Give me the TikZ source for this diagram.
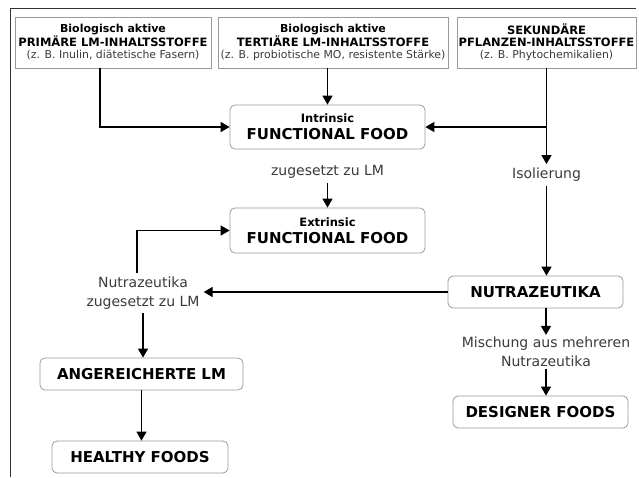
\documentclass[tikz,border=0pt]{standalone}
\usepackage{fontspec}
\setmainfont{DejaVu Sans}
\usetikzlibrary{arrows.meta}
\definecolor{txt}{HTML}{3A3A3A}
\definecolor{bord}{HTML}{9A9A9A}
\begin{document}
\begin{tikzpicture}[x=1pt,y=-1pt,
  topbox/.style={draw=bord, line width=0.8pt, align=center, minimum height=51pt, inner sep=0pt},
  rbox/.style={draw=bord, line width=0.8pt, rounded corners=5pt, align=center, inner sep=0pt, font=\fontsize{15}{17}\bfseries\selectfont},
  lbl/.style={text=txt, align=center, inner sep=4pt, font=\fontsize{14}{19}\selectfont},
  arr/.style={line width=1.5pt, -{Triangle[length=9pt,width=10pt]}},
  ln/.style={line width=1.5pt}]
\useasboundingbox (0,0) rectangle (639,477);
\draw[line width=1pt, black!80] (636,8) -- (10,8) -- (10,477);

% top boxes
\node[topbox, minimum width=196pt] (box1) at (113,42.5)
  {{\fontsize{11}{15}\bfseries\selectfont Biologisch aktive}\\
   {\fontsize{11.5}{15}\bfseries\selectfont PRIMÄRE LM-INHALTSSTOFFE}\\
   {\color{txt}\fontsize{10.9}{15}\selectfont (z. B. Inulin, diätetische Fasern)}};
\node[topbox, minimum width=230pt] (box2) at (333,42.5)
  {{\fontsize{11}{15}\bfseries\selectfont Biologisch aktive}\\
   {\fontsize{11.5}{15}\bfseries\selectfont TERTIÄRE LM-INHALTSSTOFFE}\\
   {\color{txt}\fontsize{10.9}{15}\selectfont (z. B. probiotische MO, resistente Stärke)}};
\node[topbox, minimum width=179pt] (box3) at (546.5,42.5)
  {{\fontsize{11.5}{15}\bfseries\selectfont SEKUNDÄRE}\\
   {\fontsize{11.5}{15}\bfseries\selectfont PFLANZEN-INHALTSSTOFFE}\\
   {\color{txt}\fontsize{10.9}{15}\selectfont (z. B. Phytochemikalien)}};

% rounded boxes
\node[rbox, minimum width=195pt, minimum height=44pt] (intr) at (327.5,127)
  {{\fontsize{11.5}{14}\selectfont Intrinsic}\\ FUNCTIONAL FOOD};
\node[rbox, minimum width=195pt, minimum height=45pt] (extr) at (327.5,230.5)
  {{\fontsize{11.5}{14}\selectfont Extrinsic}\\ FUNCTIONAL FOOD};
\node[rbox, minimum width=175pt, minimum height=32pt] (nutra) at (535.5,292) {NUTRAZEUTIKA};
\node[rbox, minimum width=175pt, minimum height=32pt] (design) at (540.5,412) {DESIGNER FOODS};
\node[rbox, minimum width=203pt, minimum height=32pt] (anger) at (141.5,374) {ANGEREICHERTE LM};
\node[rbox, minimum width=176pt, minimum height=32pt] (healthy) at (140,457) {HEALTHY FOODS};

% labels
\node[lbl] (zug) at (327.5,172) {zugesetzt zu LM};
\node[lbl] (iso) at (546.5,175) {Isolierung};
\node[lbl] (nzl) at (143,293) {Nutrazeutika\\zugesetzt zu LM};
\node[lbl, inner sep=2pt] (misch) at (546,352) {Mischung aus mehreren\\Nutrazeutika};

% connectors
\draw[arr] ([xshift=-13pt]box1.south) |- (intr.west);
\draw[arr] (intr.north |- box2.south) -- (intr.north);
\draw[arr] (box3.south) -- (iso.north);
\draw[arr] (box3.south |- intr.east) -- (intr.east);
\draw[arr] (iso.south) -- (iso.south |- nutra.north);
\draw[arr] (zug.south) -- (extr.north);
\draw[arr] (nutra.west) -- (nutra.west -| nzl.east);
\draw[arr] ([xshift=-6pt]nzl.north) |- (extr.west);
\draw[arr] (nzl.south) -- (nzl.south |- anger.north);
\draw[arr] (anger.south) -- (anger.south |- healthy.north);
\draw[arr] (nutra.south -| misch.north) -- (misch.north);
\draw[arr] (misch.south) -- (misch.south |- design.north);
\end{tikzpicture}
\end{document}
